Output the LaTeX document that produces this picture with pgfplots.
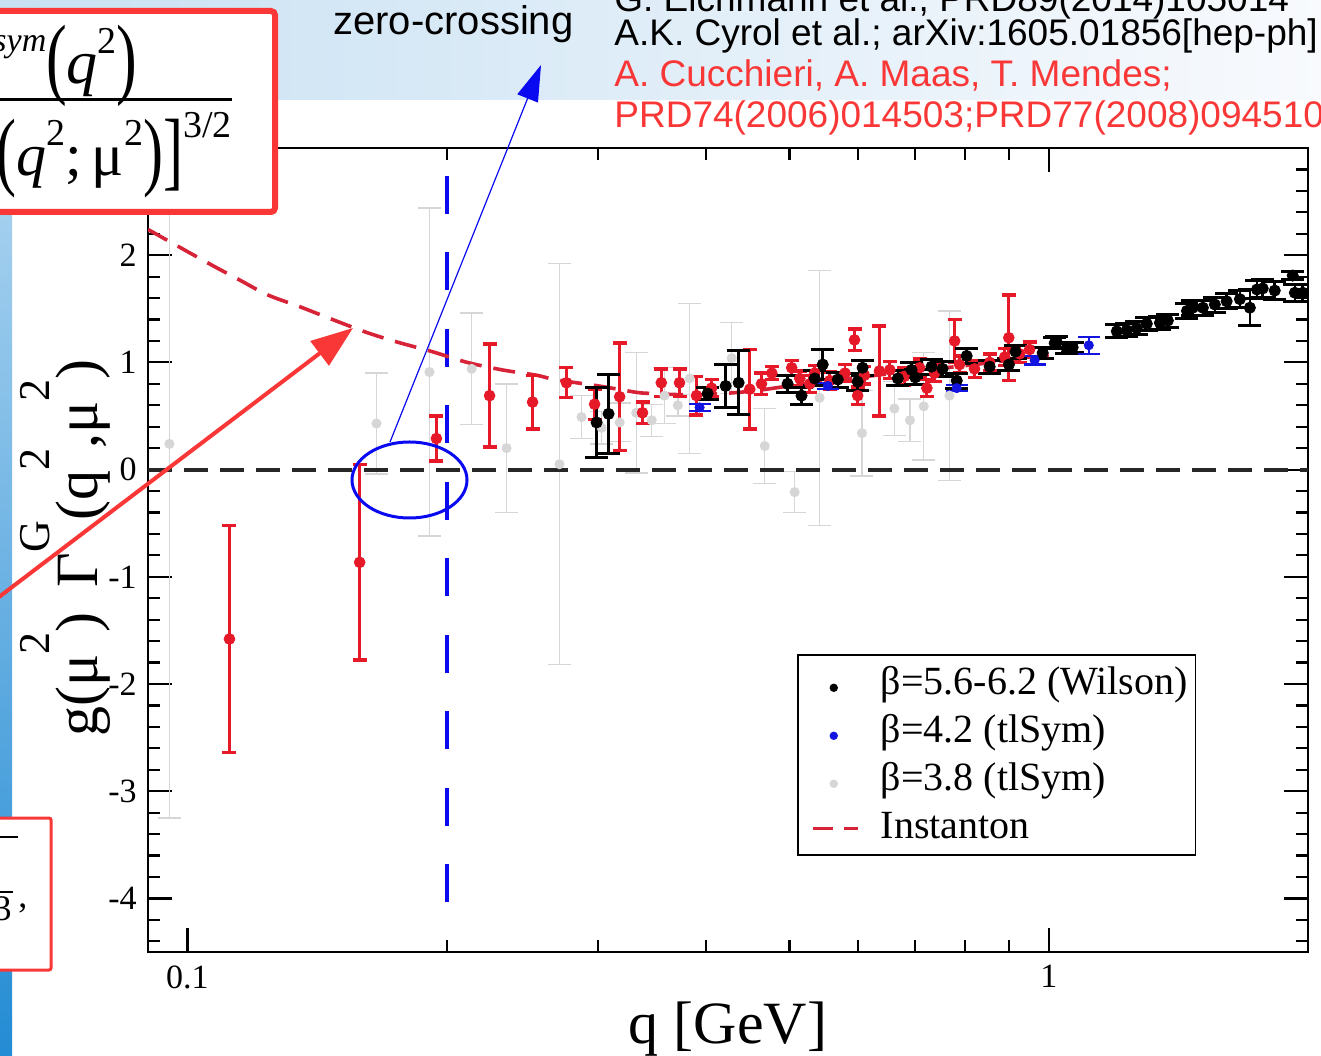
\documentclass[border=0pt]{standalone}
\usepackage{fontspec}
\setmainfont{Liberation Serif}
\newfontfamily\arialf{Liberation Sans}
\usepackage{graphicx}
\usepackage{pgfplots}
\pgfplotsset{compat=1.18}
\usetikzlibrary{arrows.meta}
\definecolor{dred}{RGB}{230,25,40}
\definecolor{instred}{RGB}{215,35,55}
\definecolor{lgray}{RGB}{214,214,214}
\definecolor{dblue}{RGB}{20,20,225}
\definecolor{boxred}{RGB}{250,55,55}
\definecolor{annblue}{RGB}{10,10,240}
\newcommand{\sy}[1]{\raisebox{24pt}{\fontsize{22}{22}\selectfont #1}}
\newcommand{\sm}[2]{\raisebox{#1}{\fontsize{19}{19}\selectfont #2}}
\newcommand{\bp}[1]{\raisebox{-2pt}{\scalebox{1}[1.45]{#1}}}
\begin{document}
\begin{tikzpicture}[x=0.5pt,y=0.5pt]
\path[use as bounding box] (0,0) rectangle (1321,1055);
\clip (0,0) rectangle (1321,1055);
\fill[white] (0,0) rectangle (1321,1055);
\shade[left color={rgb,255:red,200;green,225;blue,243}, right color={rgb,255:red,248;green,250;blue,253}] (0,955) rectangle (1321,1055);
\shade[top color={rgb,255:red,180;green,216;blue,242}, bottom color={rgb,255:red,36;green,140;blue,212}] (0,0) rectangle (12,955);

\begin{axis}[
  at={(74pt,51.5pt)}, anchor=south west,
  width=580pt, height=402pt, scale only axis,
  xmode=log, xmin=0.09, xmax=2, ymin=-4.5, ymax=3,
  axis line style={line width=1.2pt},
  xtick={0.1,1}, xticklabels={0.1,1},
  minor xtick={0.2,0.3,0.4,0.5,0.6,0.7,0.8,0.9},
  ytick={-4,-3,-2,-1,0,1,2}, yticklabels={-4,-3,-2,-1,0,1,2},
  minor ytick={-4.4,-4.2,-3.8,-3.6,-3.4,-3.2,-2.8,-2.6,-2.4,-2.2,-1.8,-1.6,-1.4,-1.2,-0.8,-0.6,-0.4,-0.2,0.2,0.4,0.6,0.8,1.2,1.4,1.6,1.8,2.2,2.4,2.6,2.8},
  tick align=inside, tick pos=both,
  major tick length=12pt, minor tick length=6pt,
  every tick/.style={black, line width=1.1pt},
  tick label style={font=\fontsize{17}{17}\selectfont},
  xticklabel style={inner sep=0pt, yshift=-6.5pt},
  yticklabel style={inner sep=0pt, xshift=-5.5pt},
  xlabel={q [GeV]},
  xlabel style={at={(axis description cs:0.5,0)}, anchor=base, yshift=-45.5pt, inner sep=0pt, font=\fontsize{30}{30}\selectfont},
  ylabel={g(μ\sy{2})\, Γ\sy{G}(q\sy{2},μ\sy{2})},
  ylabel style={at={(axis description cs:-0.0431,0.5025)}, anchor=base, inner sep=0pt, font=\fontsize{30}{30}\selectfont},
  legend style={at={(0.5595,0.3706)}, anchor=north west, draw=black, line width=0.75pt, fill=white,
    inner xsep=4pt, inner ysep=2pt, row sep=0pt, column sep=0pt,
    font=\fontsize{20}{24}\selectfont,
    nodes={inner sep=0pt, text height=18pt, text depth=6pt}, cells={anchor=base west}},
]
% beta = 3.8 (tlSym), light gray
\addplot[forget plot, only marks, mark=*, mark size=2.3pt, color=lgray,
  error bars/.cd, y dir=both, y explicit,
  error bar style={line width=0.7pt, color=lgray},
  error mark options={rotate=90, mark size=5.75pt, line width=0.7pt, color=lgray}]
  table[x=q, y=g, y error=e] {
q g e
0.0953 0.24 3.49
0.1658 0.43 0.47
0.191 0.91 1.53
0.2138 0.94 0.52
0.2347 0.20 0.60
0.2704 0.05 1.87
0.2868 0.49 0.20
0.3026 0.39 0.15
0.3176 0.44 0.18
0.332 0.53 0.56
0.346 0.46 0.15
0.358 0.69 0.26
0.371 0.60 0.10
0.383 0.85 0.70
0.4285 1.04 0.33
0.468 0.22 0.35
0.507 -0.21 0.19
0.542 0.67 1.19
0.607 0.34 0.40
0.662 0.57 0.25
0.690 0.46 0.20
0.716 0.59 0.50
0.767 0.69 0.79
};
% zero line
\addplot[forget plot, black!85, line width=2pt, dash pattern=on 12pt off 6pt] coordinates {(0.09,0) (2,0)};
% zero crossing marker line
\addplot[forget plot, annblue, line width=2pt, dash pattern=on 19pt off 19.25pt] coordinates {(0.2,2.74) (0.2,-4.03)};
% instanton
\addplot[forget plot, instred, line width=1.8pt, dash pattern=on 11pt off 6pt, smooth] coordinates {
(0.09,2.24) (0.1055,1.93) (0.1149,1.77) (0.1239,1.63) (0.135,1.52) (0.1474,1.40)
(0.1614,1.28) (0.1752,1.19) (0.1925,1.10) (0.2113,1.00) (0.232,0.93) (0.2544,0.88)
(0.2671,0.84) (0.3004,0.78) (0.3326,0.72) (0.3468,0.71) (0.37,0.70) (0.40,0.70)
(0.45,0.73) (0.50,0.78) (0.60,0.86) (0.70,0.92) (0.80,0.97) (0.90,1.02) (1.0,1.07)
};
% Cucchieri, Maas, Mendes (red)
\addplot[forget plot, only marks, mark=*, mark size=2.7pt, color=dred,
  error bars/.cd, y dir=both, y explicit,
  error bar style={line width=1.4pt, color=dred},
  error mark options={rotate=90, mark size=3.5pt, line width=1.7pt, color=dred}]
  table[x=q, y=g, y error=e] {
q g e
0.1119 -1.58 1.06
0.1585 -0.865 0.91
0.1946 0.29 0.21
0.2243 0.69 0.48
0.2516 0.63 0.25
0.2755 0.81 0.14
0.297 0.61 0.14
0.3176 0.68 0.50
0.3376 0.53 0.10
0.355 0.81 0.13
0.3727 0.81 0.13
0.390 0.69 0.18
0.406 0.76 0.08
0.4497 0.75 0.37
0.464 0.80 0.10
0.477 0.90 0.06
0.503 0.95 0.07
0.514 0.85 0.07
0.528 0.80 0.08
0.535 0.90 0.07
0.557 0.83 0.08
0.580 0.90 0.08
0.595 1.21 0.10
0.600 0.69 0.08
0.611 0.88 0.08
0.636 0.92 0.42
0.654 0.93 0.08
0.680 0.87 0.08
0.708 0.95 0.08
0.722 0.76 0.08
0.737 0.90 0.08
0.7777 1.20 0.20
0.788 0.98 0.08
0.820 0.94 0.08
0.854 1.00 0.08
0.889 1.05 0.08
0.8987 1.23 0.40
0.925 1.08 0.08
0.950 1.12 0.07
};
% beta = 5.6-6.2 (Wilson), black
\addplot[forget plot, only marks, mark=*, mark size=2.8pt, color=black,
  error bars/.cd, y dir=both, y explicit,
  error bar style={line width=1.3pt, color=black},
  error mark options={rotate=90, mark size=5.75pt, line width=1.5pt, color=black}]
  table[x=q, y=g, y error=e] {
q g e
0.2986 0.44 0.33
0.3083 0.52 0.37
0.4018 0.71 0.06
0.4216 0.78 0.20
0.4365 0.81 0.30
0.4975 0.80 0.08
0.5164 0.69 0.08
0.535 0.85 0.07
0.5465 0.98 0.14
0.569 0.84 0.07
0.600 0.82 0.08
0.608 0.95 0.07
0.668 0.85 0.07
0.693 0.93 0.07
0.700 0.86 0.07
0.731 0.96 0.07
0.753 0.94 0.07
0.782 0.83 0.07
0.803 1.06 0.07
0.854 0.96 0.06
0.899 0.98 0.06
0.915 1.10 0.06
0.984 1.09 0.05
1.016 1.18 0.05
1.0216 1.19 0.05
1.0493 1.13 0.05
1.066 1.14 0.05
1.1995 1.29 0.06
1.232 1.30 0.06
1.265 1.32 0.06
1.2996 1.36 0.06
1.346 1.37 0.06
1.375 1.39 0.06
1.447 1.48 0.07
1.470 1.51 0.07
1.51 1.51 0.07
1.559 1.54 0.07
1.609 1.57 0.07
1.667 1.59 0.08
1.712 1.51 0.17
1.745 1.68 0.08
1.772 1.69 0.08
1.830 1.67 0.08
1.920 1.81 0.04
1.931 1.65 0.08
1.972 1.65 0.08
};
% beta = 4.2 (tlSym), blue
\addplot[forget plot, only marks, mark=*, mark size=2.3pt, color=dblue,
  error bars/.cd, y dir=both, y explicit,
  error bar style={line width=1.1pt, color=dblue},
  error mark options={rotate=90, mark size=5.5pt, line width=1.1pt, color=dblue}]
  table[x=q, y=g, y error=e] {
q g e
0.3933 0.58 0.03
0.554 0.78 0.03
0.782 0.76 0.03
0.963 1.02 0.04
1.113 1.16 0.08
};
\addlegendimage{legend image code/.code={\path[draw=none,fill=none] (0pt,0pt) -- (37.5pt,0pt); \fill[black] (14pt,3.5pt) circle[radius=1.7pt];}}
\addlegendentry{β=5.6-6.2 (Wilson)}
\addlegendimage{legend image code/.code={\path[draw=none,fill=none] (0pt,0pt) -- (37.5pt,0pt); \fill[dblue] (14pt,3.5pt) circle[radius=1.7pt];}}
\addlegendentry{β=4.2 (tlSym)}
\addlegendimage{legend image code/.code={\path[draw=none,fill=none] (0pt,0pt) -- (37.5pt,0pt); \fill[lgray] (14pt,3.5pt) circle[radius=1.7pt];}}
\addlegendentry{β=3.8 (tlSym)}
\addlegendimage{legend image code/.code={\path[draw=none,fill=none] (0pt,0pt) -- (37.5pt,0pt); \draw[instred, line width=1.6pt] (3.5pt,5pt) -- (13.5pt,5pt) (19pt,5pt) -- (26pt,5pt);}}
\addlegendentry{Instanton}
\end{axis}

% annotations
\draw[boxred, line width=2pt, -{Triangle[length=21pt,width=15pt]}] (-5,455) -- (353,727);
\draw[annblue, line width=1.5pt] (409.5,575) ellipse [x radius=57.5, y radius=38];
\draw[annblue, line width=0.6pt, -{Triangle[length=18pt,width=11pt]}] (390,613) -- (541,990);

% formula box (top left)
\draw[boxred, line width=3pt, rounded corners=2pt, fill=white] (-20,843) rectangle (275,1044);
\node[anchor=base east, inner sep=0pt, font=\fontsize{31}{31}\selectfont] at (138,971)
  {\raisebox{16pt}{\fontsize{17}{17}\selectfont\itshape sym}\bp{(}\textit{q}\sm{15pt}{2}\bp{)}};
\draw[black, line width=1.5pt] (-5,955) -- (232,955);
\node[anchor=base east, inner sep=0pt, font=\fontsize{30}{30}\selectfont] at (232,879)
  {\bp{(}\textit{q}\sm{15pt}{2};\,μ\sm{15pt}{2}\bp{)}\bp{]}\sm{19pt}{3/2}};

% lower left box
\draw[boxred, line width=1.5pt, rounded corners=1pt, fill=white] (-20,85) rectangle (51,237);
\draw[black, line width=0.6pt] (-5,218) -- (18,218);
\draw[black, line width=0.6pt] (-5,163) -- (13,163);
\node[anchor=base east, inner sep=0pt, font=\fontsize{18}{18}\selectfont] at (12,135) {3};
\node[anchor=base west, inner sep=0pt, font=\fontsize{18}{18}\selectfont] at (18,148) {,};

% slide texts
\node[anchor=base west, inner sep=0pt, font=\arialf\fontsize{20}{20}\selectfont] at (333,1020) {zero-crossing};
\node[anchor=base west, inner sep=0pt, text depth=0pt, font=\arialf\fontsize{18.5}{18.5}\selectfont] at (614,1043) {G. Eichmann et al., PRD89(2014)105014};
\node[anchor=base west, inner sep=0pt, text height=13.5pt, font=\arialf\fontsize{18.5}{18.5}\selectfont] at (614,1009) {A.K. Cyrol et al.; arXiv:1605.01856[hep-ph]};
\node[anchor=base west, inner sep=0pt, text=boxred, font=\arialf\fontsize{18.5}{18.5}\selectfont] at (614,968) {A. Cucchieri, A. Maas, T. Mendes;};
\node[anchor=base west, inner sep=0pt, text=boxred, font=\arialf\fontsize{18.5}{18.5}\selectfont] at (614,927) {PRD74(2006)014503;PRD77(2008)094510};
\end{tikzpicture}
\end{document}
